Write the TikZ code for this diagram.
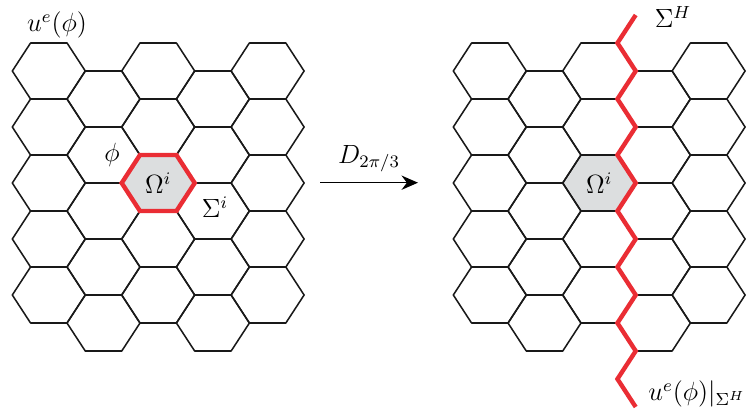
\documentclass[tikz,border=0pt]{standalone}
\usepackage{tikz}
\usetikzlibrary{arrows.meta}

\definecolor{sigred}{RGB}{234,45,52}
\definecolor{cellgray}{RGB}{220,222,223}

% one flat-topped cell, centre given in pixel units
\newcommand{\hexcell}[3][]{%
  \draw[#1] ({#2-36.5},{#3}) -- ++(18.25,-28) -- ++(36.5,0) -- ++(18.25,28)
    -- ++(-18.25,28) -- ++(-36.5,0) -- cycle;}

% 5x5 lattice, shifted by #1
\newcommand{\hexlattice}[1]{%
  \foreach \i in {0,...,4}{
    \foreach \j in {0,...,4}{
      \hexcell[cell]{#1+48.8+54.7*\i}{71+56*\j+28*mod(\i,2)}
    }
  }}

\begin{document}
\begin{tikzpicture}[
    x=0.016cm, y=-0.016cm,
    cell/.style={draw=black!90, line width=0.7pt, line join=round},
    omega/.style={fill=cellgray, draw=none},
    sigmabd/.style={draw=sigred, line width=2pt, line join=miter},
    lbl/.style={font=\large, inner sep=0pt},
    a/.style={-{Stealth[length=7.5pt,width=6.5pt]}, line width=0.7pt}
]
    \useasboundingbox (0,0) rectangle (747,412);

    % left lattice
    \hexcell[omega]{158.2}{183}
    \hexlattice{0}
    \hexcell[sigmabd]{158.2}{183}

    % right lattice
    \hexcell[omega]{599.2}{183}
    \hexlattice{441}
    \draw[sigmabd] (635.7,15) \foreach \k in {1,...,14}{ -- ({635.7-18.25*mod(\k,2)},{15+28*\k}) };

    % labels
    \node[lbl] (ue)    at (57,25)    {$u^e(\phi)$};
    \node[lbl] (phi)   at (112,155)  {$\phi$};
    \node[lbl] (omL)   at (158.2,183) {$\Omega^i$};
    \node[lbl] (sigi)  at (215,207)  {$\Sigma^i$};
    \node[lbl] (omR)   at (599.2,183) {$\Omega^i$};
    \node[lbl] (sigH)  at (673,17)   {$\Sigma^H$};
    \node[lbl, anchor=west] (ueH) at (648,394) {$u^e(\phi)|_{\Sigma^H}$};

    % rotation arrow
    \coordinate (arrs) at (320,182.7);
    \coordinate (arre) at (418,182.7);
    \draw[a] (arrs) -- node[lbl, above=4.5pt] (rot) {$D_{2\pi/3}$} (arre);
\end{tikzpicture}
\end{document}
